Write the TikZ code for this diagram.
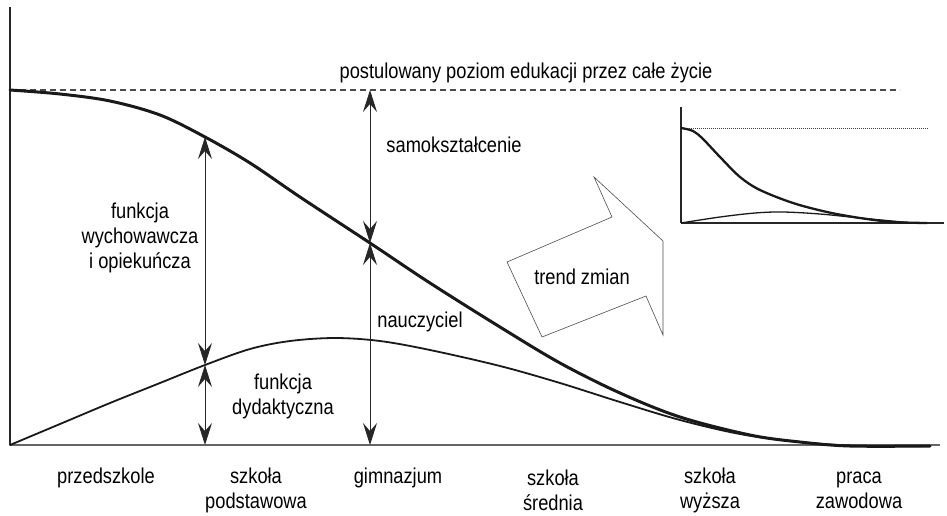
\documentclass[tikz,border=0pt]{standalone}
\usepackage{fontspec}
\setmainfont{Liberation Sans}[FakeStretch=0.85]
\usetikzlibrary{arrows.meta}
\begin{document}
\begin{tikzpicture}[x=1pt,y=-1pt,
  lbl/.style={font=\fontsize{21.5}{25}\selectfont, align=center, inner sep=0pt, text=black},
  axisv/.style={line width=2pt, draw=black!85},
  axish/.style={line width=2pt, draw=black!60},
  thickcurve/.style={line width=3pt, draw=black!90, line cap=round},
  thincurve/.style={line width=1.8pt, draw=black!90, line cap=round},
  dimarrow/.style={line width=1pt, draw=black!85,
    {Stealth[length=22pt,width=14pt,inset=8pt]}-{Stealth[length=22pt,width=14pt,inset=8pt]}},
  dashline/.style={line width=1.2pt, draw=black!70, dash pattern=on 6pt off 4pt},
  bigarrow/.style={line width=0.6pt, draw=black!70, line join=miter},
  inaxis/.style={line width=1.6pt, draw=black!85},
  inthick/.style={line width=2.3pt, draw=black!90},
  inthin/.style={line width=1.3pt, draw=black!90},
  indot/.style={line width=0.8pt, draw=black!75, dash pattern=on 1pt off 1pt}]
\useasboundingbox (0,0) rectangle (947,515);

% axes
\coordinate (O) at (10,445);
\coordinate (Ytop) at (10,7);
\coordinate (Xend) at (940,445);
\draw[axisv] (O) -- (Ytop);
\draw[axish] (O) -- (Xend);

% postulated level
\coordinate (D0) at (10,90);
\coordinate (D1) at (900,90);
\draw[dashline] (D0) -- (D1);
\node[lbl] (post) at (526,73) {postulowany poziom edukacji przez całe życie};

% curves
\draw[thickcurve] plot[smooth, tension=0.55] coordinates {(10,90) (60,94) (110,101) (160,115) (205,137) (250,163) (300,197) (370,243) (430,283) (500,327) (560,363) (620,393) (680,417) (750,435) (800,442) (850,446) (930,446)};
\draw[thincurve] plot[smooth, tension=0.55] coordinates {(10,445) (60,424) (110,403) (160,383) (205,365) (250,349) (290,341) (335,338) (380,341) (430,350) (500,366) (560,383) (620,402) (680,420) (740,434) (800,442) (860,446) (930,446)};

% vertical arrows
\coordinate (A1) at (205,137);
\coordinate (A2) at (205,365);
\coordinate (A3) at (205,445);
\coordinate (B1) at (370,90);
\coordinate (B2) at (370,243);
\coordinate (B3) at (370,445);
\draw[dimarrow] (A1) -- (A2);
\draw[dimarrow] (A2) -- (A3);
\draw[dimarrow] (B1) -- (B2);
\draw[dimarrow] (B2) -- (B3);

% labels inside
\node[lbl] (samo) at (454,145) {samokształcenie};
\node[lbl] (wych) at (140,238) {funkcja\\wychowawcza\\i opiekuńcza};
\node[lbl] (nauc) at (420,322) {nauczyciel};
\node[lbl] (dyd) at (283,396) {funkcja\\dydaktyczna};

% trend arrow
\draw[bigarrow] (507,262) -- (612,217) -- (594,177) -- (663,241) -- (663,335) -- (646,296) -- (542,337) -- cycle;
\node[lbl] (trend) at (582,277) {trend zmian};

% inset chart
\coordinate (iO) at (681,223);
\coordinate (iY) at (681,107);
\coordinate (iX) at (944,223);
\coordinate (iD0) at (681,128);
\coordinate (iD1) at (928,128);
\draw[indot] (iD0) -- (iD1);
\draw[inaxis] (iO) -- (iY);
\draw[inaxis] (iO) -- (iX);
\draw[inthick] plot[smooth, tension=0.55] coordinates {(681,128) (693,131) (703,139) (720,157) (740,177) (760,190) (793,203) (827,212) (860,218) (893,222) (927,223)};
\draw[inthin] plot[smooth, tension=0.55] coordinates {(681,223) (720,217) (755,213) (783,212) (820,214) (860,218) (913,223)};

% bottom labels
\node[lbl] (l1) at (106,478) {przedszkole};
\node[lbl] (l2) at (256,490) {szkoła\\podstawowa};
\node[lbl] (l3) at (398,478) {gimnazjum};
\node[lbl] (l4) at (553,490) {szkoła\\średnia};
\node[lbl] (l5) at (710,490) {szkoła\\wyższa};
\node[lbl] (l6) at (859,490) {praca\\zawodowa};
\end{tikzpicture}
\end{document}
